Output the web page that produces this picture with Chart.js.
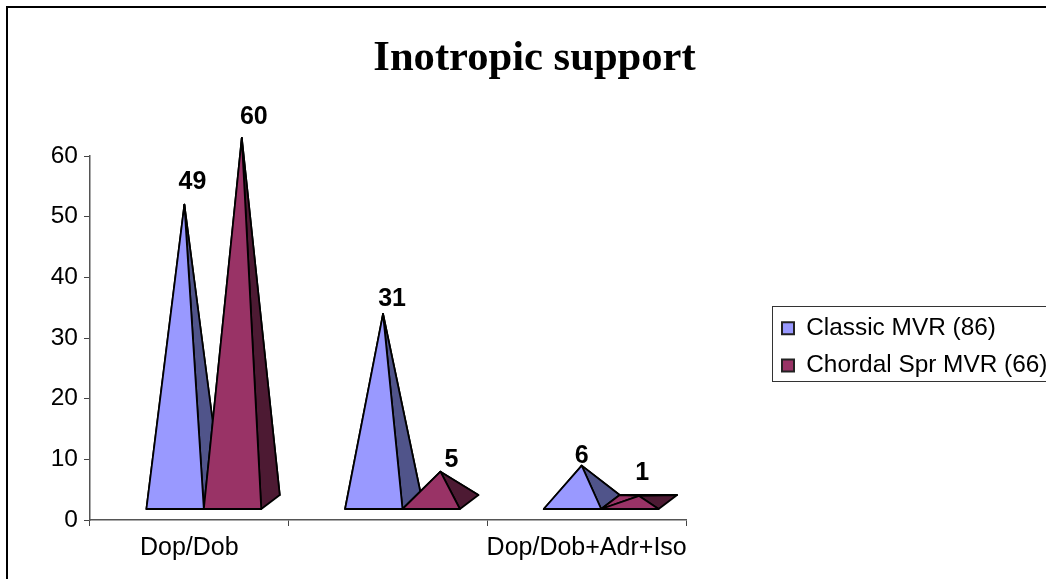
<!DOCTYPE html>
<html>
<head>
<meta charset="utf-8">
<title>Inotropic support</title>
<script src="https://cdn.jsdelivr.net/npm/chart.js@4/dist/chart.umd.js"></script>
<style>
  html, body { margin: 0; background: #fff; overflow: hidden; }
  #wrap { width: 1046px; height: 579px; }
</style>
</head>
<body>
<div id="wrap"><canvas id="myChart" width="1046" height="579"></canvas></div>
<script>
'use strict';

const categories = ['Dop/Dob', '', 'Dop/Dob+Adr+Iso'];
const classicValues = [49, 31, 6];
const chordalValues = [60, 5, 1];
const yTicks = [0, 10, 20, 30, 40, 50, 60];

const FONT = '"Liberation Sans", Arial, sans-serif';

// fake perspective of the pyramids, in pixels
const LIFT = 11;      // front edge of the base above the axis
const DEPTH_X = 18.5;
const DEPTH_Y = 14;
const SHIFT_X = 14.5; // front face sits right of the bar slot
// label offsets from each apex, per dataset then per category
const labelNudge = [
  [[8, -16], [9, -8], [0, -3]],
  [[12, -14], [11, -5], [3, -16]]
];

const faces = [
  { front: '#9999ff', side: '#50548a', back: '#50548a' },
  { front: '#993366', side: '#4d1a33', back: '#993366' }
];

function fillFace(ctx, pts, color) {
  ctx.beginPath();
  ctx.moveTo(pts[0][0], pts[0][1]);
  for (let i = 1; i < pts.length; i++) {
    ctx.lineTo(pts[i][0], pts[i][1]);
  }
  ctx.closePath();
  ctx.fillStyle = color;
  ctx.fill();
  ctx.stroke();
}

const pyramids = {
  id: 'pyramids',
  afterLayout(chart) {
    // legend box sits apart from the plot, title is centred over the right of it
    chart.legend.left = 769;
    chart.legend.right = 1062;
    chart.legend.top = 303;
    chart.legend.bottom = 500;
    chart.titleBlock.left = 23;
    chart.titleBlock.right = 1046;
  },
  beforeDraw(chart) {
    const ctx = chart.ctx;
    ctx.save();
    ctx.strokeStyle = '#000';
    ctx.lineWidth = 2;
    ctx.beginPath();
    ctx.moveTo(7, 579);
    ctx.lineTo(7, 7);
    ctx.lineTo(1046, 7);
    ctx.stroke();
    ctx.restore();
  },
  beforeDatasetsDraw(chart) {
    const ctx = chart.ctx;
    const zero = chart.scales.y.getPixelForValue(0);
    const baseY = zero - LIFT;
    ctx.save();
    ctx.strokeStyle = '#000';
    ctx.lineWidth = 1.8;
    ctx.lineJoin = 'round';
    chart.data.datasets.forEach(function (ds, d) {
      chart.getDatasetMeta(d).data.forEach(function (bar, i) {
        const left = bar.x - bar.width / 2 + SHIFT_X;
        const right = bar.x + bar.width / 2 + SHIFT_X;
        const fl = [left, baseY];
        const fr = [right, baseY];
        const bl = [left + DEPTH_X, baseY - DEPTH_Y];
        const br = [right + DEPTH_X, baseY - DEPTH_Y];
        const apex = [(left + right + DEPTH_X) / 2, bar.y - LIFT - DEPTH_Y / 2];
        fillFace(ctx, [bl, br, apex], faces[d].back);
        fillFace(ctx, [fl, bl, apex], faces[d].back);
        fillFace(ctx, [fr, br, apex], faces[d].side);
        fillFace(ctx, [fl, fr, apex], faces[d].front);
      });
    });
    ctx.restore();
    // value labels go on top of every pyramid
    ctx.save();
    ctx.fillStyle = '#000';
    ctx.font = 'bold 25px ' + FONT;
    ctx.textAlign = 'center';
    ctx.textBaseline = 'alphabetic';
    chart.data.datasets.forEach(function (ds, d) {
      chart.getDatasetMeta(d).data.forEach(function (bar, i) {
        const apexX = bar.x + SHIFT_X + DEPTH_X / 2;
        const apexY = bar.y - LIFT - DEPTH_Y / 2;
        ctx.fillText(ds.data[i], apexX + labelNudge[d][i][0], apexY + labelNudge[d][i][1]);
      });
    });
    ctx.restore();
    return false; // pyramids replace the plain bars
  },
  afterDraw(chart) {
    const ctx = chart.ctx;
    ctx.save();
    ctx.strokeStyle = '#333';
    ctx.lineWidth = 1;
    ctx.strokeRect(772.5, 306.5, 290, 75);
    ctx.restore();
  }
};

new Chart(document.getElementById('myChart'), {
  type: 'bar',
  plugins: [pyramids],
  data: {
    labels: categories,
    datasets: [{
      label: 'Classic MVR (86)',
      data: classicValues,
      backgroundColor: '#9999ff',
      borderColor: '#222',
      borderWidth: 2
    }, {
      label: 'Chordal Spr MVR (66)',
      data: chordalValues,
      backgroundColor: '#993366',
      borderColor: '#222',
      borderWidth: 2
    }]
  },
  options: {
    responsive: false,
    animation: false,
    categoryPercentage: 0.578,
    barPercentage: 1,
    layout: { padding: { left: 0, right: 360, top: 0, bottom: 0 } },
    plugins: {
      title: {
        display: true,
        text: 'Inotropic support',
        color: '#000',
        font: { family: '"Liberation Serif", "Times New Roman", serif', size: 42.6, weight: 'bold', lineHeight: 1.2 },
        padding: { top: 33, bottom: 71.9 }
      },
      legend: {
        position: 'chartArea',
        align: 'start',
        labels: {
          color: '#000',
          font: { family: FONT, size: 24.4 },
          boxWidth: 12,
          boxHeight: 12,
          padding: 13
        }
      },
      tooltip: { enabled: false }
    },
    scales: {
      x: {
        afterFit(scale) { scale.height = 59; },
        grid: { drawOnChartArea: false, tickLength: 6, tickColor: '#444', offset: true },
        border: { color: '#555', width: 1.5 },
        ticks: { color: '#000', font: { family: FONT, size: 25 }, padding: 7, autoSkip: false, maxRotation: 0 }
      },
      y: {
        min: 0,
        max: 60,
        afterFit(scale) { scale.width = 90; },
        afterBuildTicks(scale) { scale.ticks = yTicks.map(function (v) { return { value: v }; }); },
        grid: { drawOnChartArea: false, tickLength: 6, tickColor: '#444' },
        border: { color: '#555', width: 1.5 },
        ticks: { color: '#000', font: { family: FONT, size: 24.5 }, padding: 6 }
      }
    }
  }
});
</script>
</body>
</html>
